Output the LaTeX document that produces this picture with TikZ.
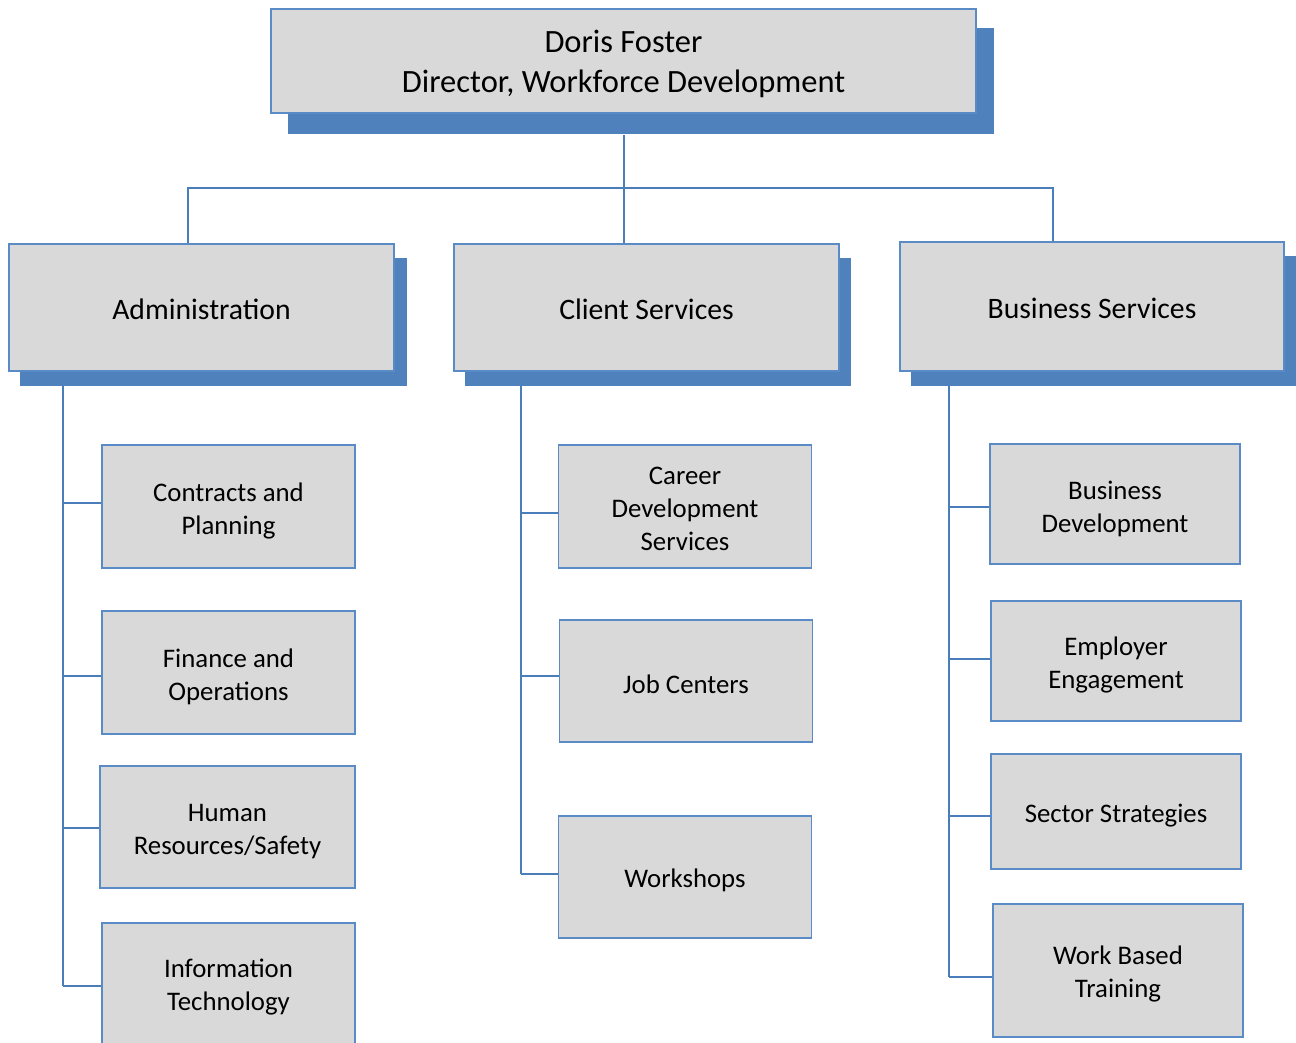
\documentclass[tikz,border=0pt]{standalone}
\usepackage{fontspec}
\setmainfont{Carlito}
\usetikzlibrary{calc}
\definecolor{boxfill}{HTML}{D9D9D9}
\definecolor{boxline}{HTML}{5B8BC6}
\definecolor{shadowblue}{HTML}{4F81BD}
\definecolor{conn}{HTML}{4A7EBB}
\newcommand{\dn}[1]{\rule{0pt}{\dimexpr0.75em+#1\relax}}
\tikzset{
  orgbox/.style={draw=boxline, fill=boxfill, line width=1.6pt, inner sep=0pt, align=center, text=black},
  topbox/.style={orgbox, minimum width=705, minimum height=104, font=\fontsize{32.5}{40}\selectfont},
  mainbox/.style={orgbox, minimum width=385, minimum height=127, font=\fontsize{29.7}{34}\selectfont},
  subbox/.style={orgbox, minimum width=253, minimum height=123, font=\fontsize{26.8}{33}\selectfont},
  subtext/.style={font=\fontsize{26.8}{33}\selectfont, align=center, inner sep=0pt},
  link/.style={draw=conn, line width=1.6pt}
}
\begin{document}
\begin{tikzpicture}[x=1pt,y=-1pt]
\path[use as bounding box, clip] (0,0) rectangle (1296,1043);
\fill[white] (0,0) rectangle (1296,1043);

% shadows
\fill[shadowblue] (288,28) rectangle (994,134);
\fill[shadowblue] (20,258) rectangle (407,386);
\fill[shadowblue] (465,258) rectangle (851,386);
\fill[shadowblue] (911,256) rectangle (1296,386);

% top
\node[topbox] (top) at (623.5,61) {\dn{3pt}Doris Foster\\Director, Workforce Development};

% main boxes
\node[mainbox] (adm) at (201.5,307.5) {\dn{2pt}Administration};
\node[mainbox] (cli) at (646.5,307.5) {\dn{2pt}Client Services};
\node[mainbox, minimum width=384, minimum height=129] (bus) at (1092,306.5) {\dn{2pt}Business Services};

% top connectors
\draw[link] (top.south -| 624,0) ++(0,21) -- (cli.north -| 624,0);
\draw[link] (adm.north -| 188,0) |- (1053,188) -- (bus.north -| 1053,0);

% Administration children
\node[subbox] (c1) at (228.5,506.5) {\dn{8pt}Contracts and\\Planning};
\node[subbox] (c2) at (228.5,672.5) {\dn{7pt}Finance and\\Operations};
\node[subbox, minimum width=255, minimum height=122] (c3) at (227.5,827) {\dn{6pt}Human\\Resources/Safety};
\node[subbox, minimum height=160] (c4) at (228.5,1003) {};
\node[subtext] (c4t) at (228.5,987.5) {Information\\Technology};

\coordinate (as) at (63,386);
\draw[link] (as) -- (63,986);
\draw[link] (63,503) -- (c1.west |- 0,503);
\draw[link] (63,676) -- (c2.west |- 0,676);
\draw[link] (63,828) -- (c3.west |- 0,828);
\draw[link] (63,986) -- (c4.west |- 0,986);

% Client Services children
\node[subbox] (d1) at (685,506.5) {\dn{3pt}Career\\Development\\Services};
\node[subbox, minimum height=122] (d2) at (686,681) {\dn{5pt}Job Centers};
\node[subbox, minimum height=122] (d3) at (685,877) {\dn{6pt}Workshops};

\coordinate (cs) at (521,386);
\draw[link] (cs) -- (521,874);
\draw[link] (521,513) -- (d1.west |- 0,513);
\draw[link] (521,676) -- (d2.west |- 0,676);
\draw[link] (521,874) -- (d3.west |- 0,874);

% Business Services children
\node[subbox, minimum width=250, minimum height=120] (e1) at (1115,504) {\dn{8pt}Business\\Development};
\node[subbox, minimum width=250, minimum height=120] (e2) at (1116,661) {\dn{7pt}Employer\\Engagement};
\node[subbox, minimum width=250, minimum height=115] (e3) at (1116,811.5) {\dn{6pt}Sector Strategies};
\node[subbox, minimum width=250, minimum height=133] (e4) at (1118,970.5) {\dn{6pt}Work Based\\Training};

\coordinate (bs) at (949,386);
\draw[link] (bs) -- (949,977);
\draw[link] (949,507) -- (e1.west |- 0,507);
\draw[link] (949,659) -- (e2.west |- 0,659);
\draw[link] (949,816) -- (e3.west |- 0,816);
\draw[link] (949,977) -- (e4.west |- 0,977);
\end{tikzpicture}
\end{document}
